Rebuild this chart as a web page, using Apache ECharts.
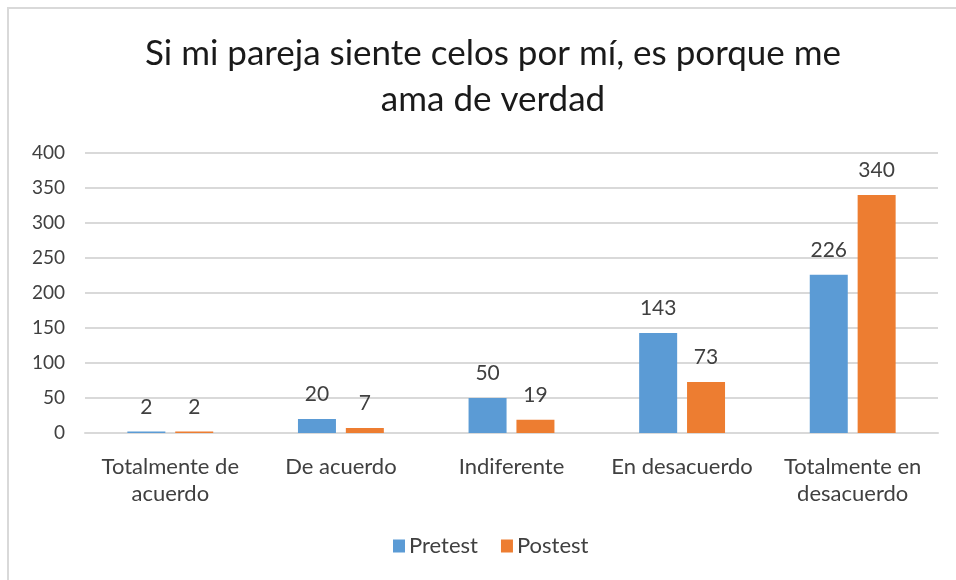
<!DOCTYPE html>
<html>
<head>
<meta charset="utf-8">
<script src="https://cdn.jsdelivr.net/npm/echarts@6/dist/echarts.min.js"></script>
<style>html,body{margin:0;padding:0;background:#fff}#c{width:956px;height:580px}</style>
</head>
<body>
<div id="c"></div>
<script>
const titleText = 'Si mi pareja siente celos por mí, es porque me\nama de verdad';
const categories = ['Totalmente de\nacuerdo', 'De acuerdo', 'Indiferente', 'En desacuerdo', 'Totalmente en\ndesacuerdo'];
const pretest = [2, 20, 50, 143, 226];
const postest = [2, 7, 19, 73, 340];
const yTicks = { min: 0, max: 400, interval: 50 };
const FONT = 'Lato';

const chart = echarts.init(document.getElementById('c'), null, { renderer: 'canvas' });
const labelStyle = { show: true, position: 'top', distance: 14, color: '#404040', fontSize: 21, fontFamily: FONT };
chart.setOption({
  animation: false,
  graphic: [{ type: 'rect', shape: { x: 8, y: 8, width: 1200, height: 1200 }, style: { fill: 'none', stroke: '#d9d9d9', lineWidth: 2 }, silent: true }],
  title: {
    text: titleText, left: 488, top: 26, textAlign: 'center',
    textStyle: { fontFamily: FONT, fontSize: 35, fontWeight: 'normal', color: '#1a1a1a', lineHeight: 46 }
  },
  legend: {
    data: ['Pretest', 'Postest'], bottom: 18, left: 388, itemWidth: 12, itemHeight: 13, itemGap: 23,
    icon: 'rect', textStyle: { fontFamily: FONT, fontSize: 22, color: '#404040', padding: [0, 0, 0, -1] }
  },
  grid: { left: 85, right: 18, top: 153, bottom: 147, containLabel: false },
  xAxis: {
    type: 'category', data: categories,
    axisLine: { lineStyle: { color: '#d9d9d9', width: 2 } }, axisTick: { show: false },
    axisLabel: { fontFamily: FONT, fontSize: 22, color: '#404040', lineHeight: 27, margin: 20, interval: 0 }
  },
  yAxis: {
    type: 'value', min: yTicks.min, max: yTicks.max, interval: yTicks.interval,
    axisLine: { show: false }, axisTick: { show: false },
    splitLine: { lineStyle: { color: '#d9d9d9', width: 2 } },
    axisLabel: { fontFamily: FONT, fontSize: 19, color: '#404040', margin: 20 }
  },
  series: [
    { name: 'Pretest', type: 'bar', data: pretest, barWidth: 38, barGap: '26%', itemStyle: { color: '#5b9bd5' }, label: labelStyle },
    { name: 'Postest', type: 'bar', data: postest, barWidth: 38, barGap: '26%', itemStyle: { color: '#ed7d31' }, label: labelStyle }
  ]
});
</script>
</body>
</html>
